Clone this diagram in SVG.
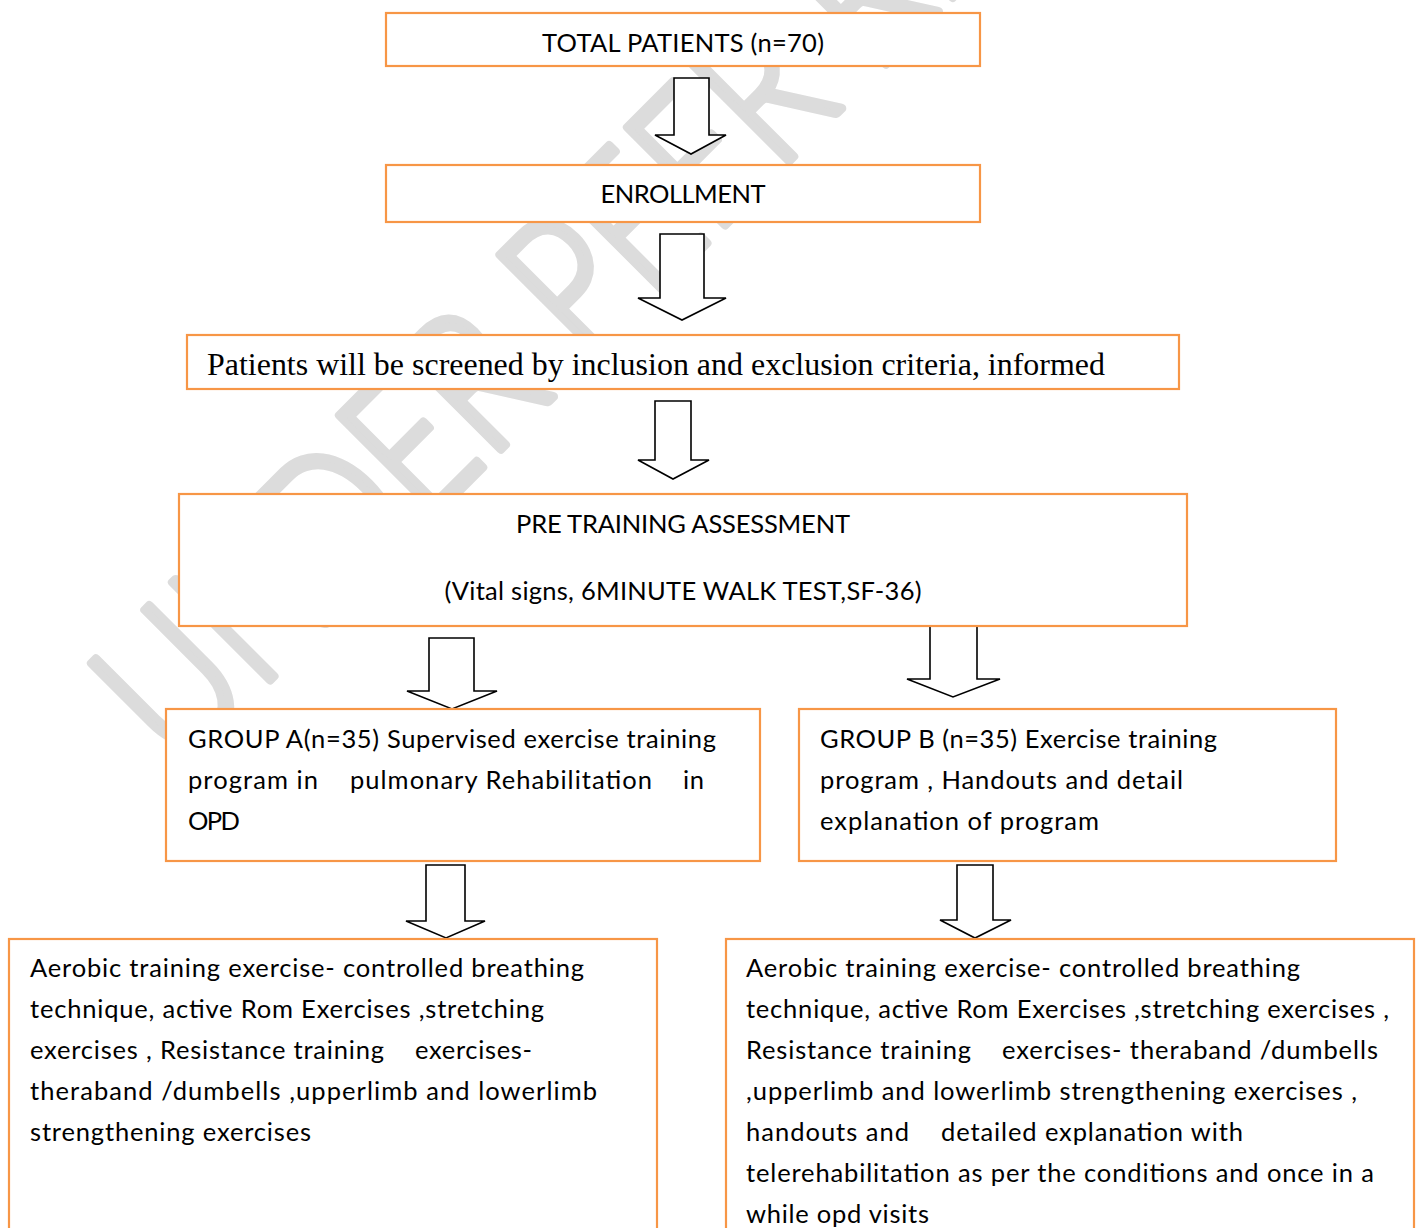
<svg xmlns="http://www.w3.org/2000/svg" width="1419" height="1228" viewBox="0 0 1419 1228">
<style>
.box{fill:#ffffff;stroke:#f79646;stroke-width:2.2}
.arr{fill:#ffffff;stroke:#000000;stroke-width:1.6;stroke-linejoin:miter}
.t{font-family:Lato,"Open Sans","Liberation Sans",sans-serif;font-size:25.5px;fill:#000000}
.c{text-anchor:middle}
.serif{font-family:"Liberation Serif","Times New Roman",serif;font-size:31px;fill:#000000}
.wm{font-family:Lato,"Open Sans","Liberation Sans",sans-serif;font-size:195px;font-weight:300;fill:#dcdcdc;stroke:#dcdcdc;stroke-width:9;stroke-linejoin:round;stroke-linecap:round}
</style>
<rect x="0" y="0" width="1419" height="1228" fill="#ffffff"/>
<g id="watermark">
<text class="wm" transform="translate(178,772) rotate(-45)" textLength="1560" lengthAdjust="spacingAndGlyphs">UNDER PEER REVIEW</text>
</g>
<g id="connectors">
<path class="arr" d="M674,78 H709 V135 H726 L691,154 L655,135 H674 Z"/>
<path class="arr" d="M660,234 H704 V298 H726 L682,320 L638,298 H660 Z"/>
<path class="arr" d="M655,401 H691 V460 H709 L673,479 L638,460 H655 Z"/>
<path class="arr" d="M429,638 H474 V691 H497 L452,709 L407,691 H429 Z"/>
<path class="arr" d="M930,626 H977 V679 H1000 L953,697 L907,679 H930 Z"/>
<path class="arr" d="M426,865 H465 V921 H485 L446,938 L406,921 H426 Z"/>
<path class="arr" d="M957,865 H993 V920 H1011 L975,938 L940,920 H957 Z"/>
</g>
<g id="total">
<rect class="box" x="386" y="13" width="594" height="53"/>
<text class="t c" x="683" y="52" textLength="282">TOTAL PATIENTS (n=70)</text>
</g>
<g id="enrollment">
<rect class="box" x="386" y="165" width="594" height="57"/>
<text class="t c" x="683" y="203" textLength="165">ENROLLMENT</text>
</g>
<g id="screening">
<rect class="box" x="187" y="335" width="992" height="54"/>
<text class="serif" x="207" y="375" textLength="898" lengthAdjust="spacingAndGlyphs">Patients will be screened by inclusion and exclusion criteria, informed</text>
</g>
<g id="pretraining">
<rect class="box" x="179" y="494" width="1008" height="132"/>
<text class="t c" x="683" y="533" textLength="334">PRE TRAINING ASSESSMENT</text>
<text class="t c" x="683" y="600" textLength="477">(Vital signs, 6MINUTE WALK TEST,SF-36)</text>
</g>
<g id="groupA">
<rect class="box" x="166" y="709" width="594" height="152"/>
<text class="t" x="188" y="748" textLength="528">GROUP A(n=35) Supervised exercise training</text>
<text class="t" y="789"><tspan x="188" textLength="130">program in</tspan><tspan x="350" textLength="302">pulmonary Rehabilitation</tspan><tspan x="683" textLength="21">in</tspan></text>
<text class="t" x="188" y="830" textLength="52">OPD</text>
</g>
<g id="groupB">
<rect class="box" x="799" y="709" width="537" height="152"/>
<text class="t" x="820" y="748" textLength="397">GROUP B (n=35) Exercise training</text>
<text class="t" x="820" y="789" textLength="363">program , Handouts and detail</text>
<text class="t" x="820" y="830" textLength="279">explanation of program</text>
</g>
<g id="exerciseA">
<rect class="box" x="9" y="939" width="648" height="300"/>
<text class="t" x="30" y="977" textLength="554">Aerobic training exercise- controlled breathing</text>
<text class="t" x="30" y="1018" textLength="514">technique, active Rom Exercises ,stretching</text>
<text class="t" y="1059"><tspan x="30" textLength="354">exercises , Resistance training</tspan><tspan x="415" textLength="117">exercises-</tspan></text>
<text class="t" x="30" y="1100" textLength="567">theraband /dumbells ,upperlimb and lowerlimb</text>
<text class="t" x="30" y="1141" textLength="281">strengthening exercises</text>
</g>
<g id="exerciseB">
<rect class="box" x="726" y="939" width="688" height="300"/>
<text class="t" x="746" y="977" textLength="554">Aerobic training exercise- controlled breathing</text>
<text class="t" x="746" y="1018" textLength="643">technique, active Rom Exercises ,stretching exercises ,</text>
<text class="t" y="1059"><tspan x="746" textLength="225">Resistance training</tspan><tspan x="1002" textLength="376">exercises- theraband /dumbells</tspan></text>
<text class="t" x="746" y="1100" textLength="611">,upperlimb and lowerlimb strengthening exercises ,</text>
<text class="t" y="1141"><tspan x="746" textLength="163">handouts and</tspan><tspan x="941" textLength="302">detailed explanation with</tspan></text>
<text class="t" x="746" y="1182" textLength="628">telerehabilitation as per the conditions and once in a</text>
<text class="t" x="746" y="1223" textLength="183">while opd visits</text>
</g>
</svg>
